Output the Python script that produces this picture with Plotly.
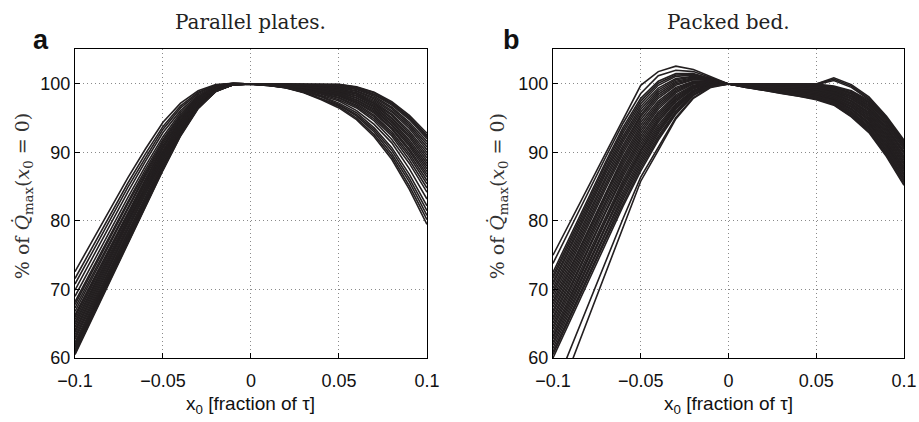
import plotly.graph_objects as go

# x positions (fraction of tau)
x_left = [-0.1, -0.09, -0.08, -0.07, -0.06, -0.05, -0.04, -0.03, -0.02, -0.01, 0.0]
x_right = [0.01, 0.02, 0.03, 0.04, 0.05, 0.06, 0.07, 0.08, 0.09, 0.1]

# Panel a (Parallel plates): values at x_left
a_left = [
    [72.6, 77.2, 81.8, 86.3, 90.5, 94.4, 97.2, 99.0, 99.9, 100.1, 100],
    [71.6, 76.3, 81.0, 85.5, 89.8, 93.8, 96.8, 98.8, 99.8, 100.1, 100],
    [70.8, 75.5, 80.2, 84.9, 89.2, 93.4, 96.5, 98.6, 99.8, 100.1, 100],
    [69.9, 74.7, 79.5, 84.2, 88.7, 92.9, 96.1, 98.4, 99.7, 100.1, 100],
    [69.0, 73.8, 78.7, 83.4, 88.0, 92.3, 95.8, 98.2, 99.6, 100.0, 100],
    [68.2, 73.1, 78.0, 82.8, 87.5, 91.9, 95.5, 98.1, 99.5, 100.0, 100],
    [67.8, 72.7, 77.6, 82.5, 87.1, 91.6, 95.3, 98.0, 99.5, 100.0, 100],
    [67.3, 72.2, 77.2, 82.1, 86.8, 91.3, 95.1, 97.9, 99.5, 100.0, 100],
    [66.8, 71.8, 76.8, 81.7, 86.5, 91.0, 94.9, 97.8, 99.4, 100.0, 100],
    [66.3, 71.3, 76.3, 81.3, 86.1, 90.8, 94.7, 97.7, 99.4, 100.0, 100],
    [66.0, 71.0, 76.0, 81.0, 85.9, 90.6, 94.6, 97.6, 99.4, 100.0, 100],
    [65.6, 70.7, 75.7, 80.7, 85.6, 90.3, 94.4, 97.5, 99.3, 100.0, 100],
    [65.2, 70.3, 75.4, 80.4, 85.4, 90.1, 94.3, 97.4, 99.3, 100.0, 100],
    [64.9, 70.0, 75.1, 80.2, 85.1, 89.9, 94.1, 97.3, 99.3, 100.0, 100],
    [64.5, 69.6, 74.8, 79.9, 84.9, 89.7, 94.0, 97.3, 99.2, 100.0, 100],
    [64.1, 69.3, 74.5, 79.6, 84.6, 89.5, 93.8, 97.2, 99.2, 100.0, 100],
    [63.8, 69.0, 74.1, 79.3, 84.4, 89.3, 93.7, 97.1, 99.2, 100.0, 100],
    [63.4, 68.6, 73.8, 79.0, 84.1, 89.1, 93.6, 97.0, 99.1, 100.0, 100],
    [63.0, 68.3, 73.5, 78.7, 83.9, 88.9, 93.4, 97.0, 99.1, 99.9, 100],
    [62.7, 67.9, 73.2, 78.4, 83.6, 88.7, 93.3, 96.9, 99.1, 99.9, 100],
    [62.3, 67.6, 72.9, 78.1, 83.4, 88.5, 93.1, 96.8, 99.1, 99.9, 100],
    [62.0, 67.3, 72.6, 77.9, 83.1, 88.2, 93.0, 96.7, 99.0, 99.9, 100],
    [61.7, 67.0, 72.4, 77.7, 82.9, 88.1, 92.9, 96.7, 99.0, 99.9, 100],
    [61.5, 66.8, 72.1, 77.5, 82.8, 88.0, 92.8, 96.6, 99.0, 99.9, 100],
    [61.2, 66.6, 71.9, 77.3, 82.6, 87.8, 92.7, 96.6, 99.0, 99.9, 100],
    [61.0, 66.4, 71.7, 77.1, 82.4, 87.7, 92.6, 96.5, 98.9, 99.9, 100],
    [60.7, 66.1, 71.5, 76.9, 82.3, 87.5, 92.5, 96.5, 98.9, 99.9, 100],
    [60.5, 65.9, 71.3, 76.7, 82.1, 87.4, 92.4, 96.4, 98.9, 99.9, 100],
]

# Panel a: values at x_right (paired row by row with a_left)
a_right = [
    [99.9, 99.7, 99.3, 98.8, 98.2, 97.1, 95.4, 93.0, 89.8, 85.9],
    [100, 100, 100, 100, 99.95, 99.6, 98.8, 97.4, 95.4, 92.8],
    [99.8, 99.4, 98.8, 97.8, 96.7, 95.0, 92.6, 89.4, 85.1, 80.2],
    [100, 99.9, 99.7, 99.5, 99.1, 98.5, 97.2, 95.4, 92.8, 89.6],
    [99.9, 99.8, 99.5, 99.1, 98.6, 97.7, 96.3, 94.1, 91.2, 87.6],
    [100, 100, 99.9, 99.8, 99.6, 99.2, 98.2, 96.6, 94.4, 91.6],
    [99.8, 99.5, 99.0, 98.2, 97.2, 95.8, 93.6, 90.7, 86.8, 82.2],
    [99.9, 99.8, 99.6, 99.2, 98.8, 98.0, 96.7, 94.6, 91.8, 88.4],
    [100, 99.9, 99.8, 99.6, 99.3, 98.7, 97.6, 95.9, 93.5, 90.4],
    [99.9, 99.6, 99.2, 98.5, 97.7, 96.5, 94.6, 91.9, 88.4, 84.2],
    [100, 100, 100, 99.9, 99.8, 99.4, 98.5, 97.1, 95.0, 92.3],
    [99.9, 99.7, 99.4, 98.9, 98.3, 97.3, 95.7, 93.4, 90.2, 86.4],
    [99.8, 99.4, 98.7, 97.7, 96.5, 94.8, 92.3, 89.0, 84.6, 79.5],
    [100, 99.9, 99.8, 99.7, 99.5, 99.0, 98.0, 96.4, 94.1, 91.2],
    [99.9, 99.8, 99.6, 99.3, 98.9, 98.2, 96.9, 94.9, 92.2, 88.8],
    [99.9, 99.7, 99.3, 98.7, 98.0, 96.9, 95.2, 92.7, 89.4, 85.4],
    [100, 99.9, 99.7, 99.5, 99.2, 98.6, 97.4, 95.6, 93.1, 90.0],
    [99.8, 99.5, 98.8, 97.9, 96.9, 95.3, 93.0, 89.8, 85.7, 80.8],
    [99.9, 99.8, 99.5, 99.2, 98.7, 97.9, 96.5, 94.4, 91.5, 88.0],
    [100, 100, 100, 100, 99.9, 99.5, 98.7, 97.2, 95.2, 92.5],
    [99.9, 99.6, 99.2, 98.6, 97.9, 96.7, 94.9, 92.4, 88.9, 84.8],
    [100, 99.8, 99.7, 99.4, 99.0, 98.3, 97.1, 95.1, 92.5, 89.2],
    [99.9, 99.6, 99.1, 98.3, 97.5, 96.1, 94.1, 91.4, 87.6, 83.2],
    [100, 99.9, 99.8, 99.7, 99.4, 98.9, 97.8, 96.1, 93.8, 90.8],
    [99.9, 99.7, 99.4, 99.0, 98.4, 97.4, 95.9, 93.6, 90.5, 86.8],
    [100, 100, 99.9, 99.9, 99.7, 99.3, 98.4, 96.9, 94.8, 92.0],
    [99.8, 99.5, 98.9, 98.1, 97.0, 95.5, 93.3, 90.3, 86.2, 81.5],
    [99.9, 99.8, 99.5, 99.0, 98.5, 97.6, 96.1, 93.9, 90.9, 87.2],
]

# Panel b (Packed bed): values at x_left
b_left = [
    [75.0, 80.0, 85.0, 90.0, 95.0, 99.8, 101.8, 102.6, 102.1, 101.1, 100],
    [73.8, 79.0, 84.2, 89.3, 94.3, 98.6, 101.2, 102.0, 101.8, 100.9, 100],
    [72.5, 77.9, 83.3, 88.6, 93.7, 97.9, 100.4, 101.5, 101.5, 100.8, 100],
    [72.0, 77.4, 82.9, 88.2, 93.3, 97.5, 100.1, 101.3, 101.4, 100.8, 100],
    [71.6, 77.0, 82.4, 87.7, 92.9, 97.1, 99.8, 101.1, 101.3, 100.7, 100],
    [71.1, 76.5, 82.0, 87.3, 92.4, 96.7, 99.4, 100.8, 101.1, 100.7, 100],
    [70.7, 76.1, 81.5, 86.9, 92.0, 96.3, 99.1, 100.6, 101.0, 100.6, 100],
    [70.2, 75.6, 81.1, 86.4, 91.6, 95.9, 98.8, 100.4, 100.9, 100.6, 100],
    [69.7, 75.2, 80.6, 86.0, 91.1, 95.5, 98.5, 100.2, 100.8, 100.6, 100],
    [69.3, 74.7, 80.2, 85.5, 90.7, 95.2, 98.2, 100.0, 100.7, 100.5, 100],
    [68.8, 74.3, 79.7, 85.1, 90.3, 94.8, 97.9, 99.8, 100.6, 100.5, 100],
    [68.3, 73.8, 79.3, 84.7, 89.9, 94.4, 97.5, 99.5, 100.4, 100.4, 100],
    [67.9, 73.3, 78.8, 84.2, 89.4, 94.0, 97.2, 99.3, 100.3, 100.4, 100],
    [67.4, 72.9, 78.4, 83.8, 89.0, 93.6, 96.9, 99.1, 100.2, 100.4, 100],
    [66.9, 72.4, 77.9, 83.4, 88.6, 93.2, 96.6, 98.9, 100.1, 100.3, 100],
    [66.5, 72.0, 77.5, 82.9, 88.2, 92.8, 96.3, 98.7, 100.0, 100.3, 100],
    [66.0, 71.5, 77.0, 82.5, 87.7, 92.4, 95.9, 98.4, 99.8, 100.2, 100],
    [65.6, 71.1, 76.6, 82.0, 87.3, 92.0, 95.6, 98.2, 99.7, 100.2, 100],
    [65.1, 70.6, 76.1, 81.6, 86.9, 91.6, 95.3, 98.0, 99.6, 100.2, 100],
    [64.6, 70.2, 75.7, 81.2, 86.5, 91.2, 95.0, 97.8, 99.5, 100.1, 100],
    [64.2, 69.7, 75.2, 80.7, 86.0, 90.8, 94.7, 97.6, 99.4, 100.1, 100],
    [63.7, 69.2, 74.8, 80.3, 85.6, 90.4, 94.4, 97.4, 99.3, 100.0, 100],
    [63.2, 68.8, 74.3, 79.9, 85.2, 90.1, 94.0, 97.1, 99.1, 100.0, 100],
    [62.8, 68.3, 73.9, 79.4, 84.8, 89.7, 93.7, 96.9, 99.0, 99.9, 100],
    [62.3, 67.9, 73.4, 79.0, 84.3, 89.3, 93.4, 96.7, 98.9, 99.9, 100],
    [61.9, 67.4, 73.0, 78.6, 83.9, 88.9, 93.1, 96.5, 98.8, 99.9, 100],
    [61.4, 67.0, 72.5, 78.1, 83.5, 88.5, 92.8, 96.3, 98.7, 99.8, 100],
    [60.9, 66.5, 72.1, 77.7, 83.1, 88.1, 92.4, 96.0, 98.5, 99.8, 100],
    [60.5, 66.1, 71.6, 77.2, 82.6, 87.7, 92.1, 95.8, 98.4, 99.7, 100],
    [60.0, 65.6, 71.2, 76.8, 82.2, 87.3, 91.8, 95.6, 98.3, 99.7, 100],
    [55.0, 61.4, 67.8, 74.2, 80.4, 86.4, 90.8, 95.1, 98.0, 99.6, 100],
    [52.3, 59.0, 65.7, 72.4, 79.1, 85.8, 90.3, 94.9, 97.9, 99.5, 100],
]

# Panel b: values at x_right (paired row by row with b_left)
b_right = [
    [99.7, 99.4, 99.1, 98.8, 98.4, 97.8, 96.4, 94.4, 91.2, 87.3],
    [100, 100, 100, 100, 100, 100.9, 99.9, 98.1, 95.3, 91.8],
    [99.5, 99.1, 98.7, 98.3, 97.8, 97.0, 95.3, 93.1, 89.6, 85.4],
    [99.9, 99.8, 99.7, 99.6, 99.4, 99.0, 98.1, 96.4, 93.6, 90.0],
    [99.6, 99.3, 98.9, 98.5, 98.1, 97.4, 95.9, 93.7, 90.4, 86.3],
    [100, 100, 100, 100, 100, 100.7, 99.7, 97.9, 95.1, 91.5],
    [99.8, 99.6, 99.4, 99.2, 98.9, 98.4, 97.2, 95.4, 92.4, 88.6],
    [99.7, 99.5, 99.2, 98.9, 98.6, 98.0, 96.7, 94.8, 91.6, 87.7],
    [100.0, 99.9, 99.9, 99.9, 99.8, 99.5, 98.7, 97.3, 94.6, 91.1],
    [99.6, 99.2, 98.8, 98.4, 97.9, 97.2, 95.6, 93.4, 90.0, 85.9],
    [99.8, 99.7, 99.5, 99.3, 99.1, 98.6, 97.5, 95.8, 92.8, 89.1],
    [100, 100, 100, 100, 99.9, 100.5, 99.5, 97.7, 94.9, 91.2],
    [99.6, 99.4, 99.0, 98.7, 98.4, 97.7, 96.3, 94.2, 91.0, 87.0],
    [99.9, 99.8, 99.8, 99.7, 99.6, 99.2, 98.3, 96.8, 94.0, 90.5],
    [99.7, 99.5, 99.3, 99.0, 98.8, 98.2, 97.0, 95.1, 92.0, 88.2],
    [99.5, 99.1, 98.6, 98.2, 97.7, 96.9, 95.2, 92.9, 89.4, 85.2],
    [99.9, 99.7, 99.6, 99.5, 99.3, 98.9, 97.9, 96.3, 93.4, 89.8],
    [99.6, 99.3, 99.0, 98.7, 98.3, 97.6, 96.2, 94.1, 90.8, 86.8],
    [100.0, 99.9, 99.9, 99.8, 99.8, 99.4, 98.6, 97.1, 94.4, 90.9],
    [99.8, 99.6, 99.4, 99.2, 99.0, 98.5, 97.4, 95.6, 92.6, 88.9],
    [99.7, 99.4, 99.1, 98.8, 98.5, 97.9, 96.6, 94.6, 91.4, 87.5],
    [99.9, 99.9, 99.8, 99.7, 99.7, 99.3, 98.5, 96.9, 94.2, 90.7],
    [99.5, 99.2, 98.7, 98.3, 97.9, 97.1, 95.5, 93.2, 89.8, 85.7],
    [99.8, 99.7, 99.6, 99.4, 99.3, 98.8, 97.8, 96.1, 93.2, 89.5],
    [99.6, 99.2, 98.8, 98.5, 98.0, 97.3, 95.7, 93.6, 90.2, 86.1],
    [100, 100, 100, 100, 100, 99.7, 99.0, 97.6, 95.0, 91.6],
    [99.7, 99.5, 99.2, 99.0, 98.7, 98.1, 96.8, 94.9, 91.8, 87.9],
    [99.8, 99.6, 99.3, 99.1, 98.9, 98.3, 97.1, 95.3, 92.2, 88.4],
    [99.9, 99.8, 99.7, 99.6, 99.5, 99.1, 98.2, 96.6, 93.8, 90.2],
    [99.6, 99.3, 98.9, 98.6, 98.2, 97.5, 96.0, 93.9, 90.6, 86.6],
    [99.8, 99.7, 99.5, 99.4, 99.2, 98.7, 97.6, 95.9, 93.0, 89.3],
    [100.0, 100.0, 100.0, 99.9, 99.9, 99.6, 98.9, 97.4, 94.8, 91.4],
]

x_ticks = [-0.1, -0.05, 0, 0.05, 0.1]
x_tick_labels = ["\u22120.1", "\u22120.05", "0", "0.05", "0.1"]
y_ticks = [60, 70, 80, 90, 100]
y_tick_labels = ["60", "70", "80", "90", "100"]
titles = ["Parallel plates.", "Packed bed."]
panel_letters = ["a", "b"]

LINE_COLOR = "#231f20"
SANS = "Liberation Sans, Arial, sans-serif"
SERIF = "DejaVu Serif, serif"

fig = go.Figure()

x_full = x_left + x_right
for lefts, rights, xa, ya in [(a_left, a_right, "x", "y"), (b_left, b_right, "x2", "y2")]:
    for l, r in zip(lefts, rights):
        fig.add_trace(go.Scatter(
            x=x_full, y=l + r, mode="lines",
            line=dict(color=LINE_COLOR, width=1.6),
            xaxis=xa, yaxis=ya, showlegend=False, hoverinfo="skip",
        ))

xdom = [[0.0816, 0.4646], [0.6017, 0.9837]]
ydom = [0.1517, 0.8839]

axis_common = dict(
    showline=True, mirror=True, linecolor="#000000", linewidth=1,
    ticks="inside", ticklen=5, tickcolor="#000000",
    showgrid=True, gridcolor="#8a8a8a", gridwidth=1, griddash="1px,3px",
    zeroline=False, automargin=False,
    tickfont=dict(family=SANS, size=18, color="#111111"),
)

for i, (xk, yk) in enumerate([("xaxis", "yaxis"), ("xaxis2", "yaxis2")]):
    fig.layout[xk] = dict(
        domain=xdom[i], range=[-0.1, 0.1], anchor="y" if i == 0 else "y2",
        tickvals=x_ticks, ticktext=x_tick_labels, ticklabelstandoff=6,
        **axis_common,
    )
    fig.layout[yk] = dict(
        domain=ydom, range=[60, 105.1], anchor="x" if i == 0 else "x2",
        tickvals=y_ticks, ticktext=y_tick_labels, ticklabelstandoff=0,
        **axis_common,
    )

annotations = []
centers = [(xdom[0][0] + xdom[0][1]) / 2, (xdom[1][0] + xdom[1][1]) / 2]
for i in range(2):
    annotations.append(dict(
        text=titles[i], x=centers[i], y=0.948, xanchor="center", yanchor="middle",
        xref="paper", yref="paper",
        showarrow=False, font=dict(family=SERIF, size=20, color="#222222"),
    ))
    annotations.append(dict(
        text="x<sub>0</sub> [fraction of \u03c4]", x=centers[i], y=0.074,
        xanchor="center", yanchor="top", xref="paper", yref="paper", showarrow=False,
        font=dict(family=SANS, size=19, color="#111111"),
    ))
    annotations.append(dict(
        text="% of <i>Q\u0307</i><sub>max</sub>(<i>x</i><sub>0</sub> = 0)",
        x=[0.025, 0.542][i], y=0.535, xanchor="center", yanchor="middle",
        xref="paper", yref="paper",
        textangle=-90, showarrow=False,
        font=dict(family=SERIF, size=19, color="#333333"),
    ))
    annotations.append(dict(
        text="<b>" + panel_letters[i] + "</b>", x=[0.0445, 0.557][i], y=0.905,
        xanchor="center", yanchor="middle",
        xref="paper", yref="paper", showarrow=False,
        font=dict(family=SANS, size=27, color="#111111"),
    ))

fig.update_layout(
    width=919, height=422,
    margin=dict(l=0, r=0, t=0, b=0),
    paper_bgcolor="white", plot_bgcolor="white",
    annotations=annotations,
)

fig.write_html(
    "out.html",
    config={"displayModeBar": False},
    post_script="document.body.style.margin='0';document.body.style.overflow='hidden';",
)
